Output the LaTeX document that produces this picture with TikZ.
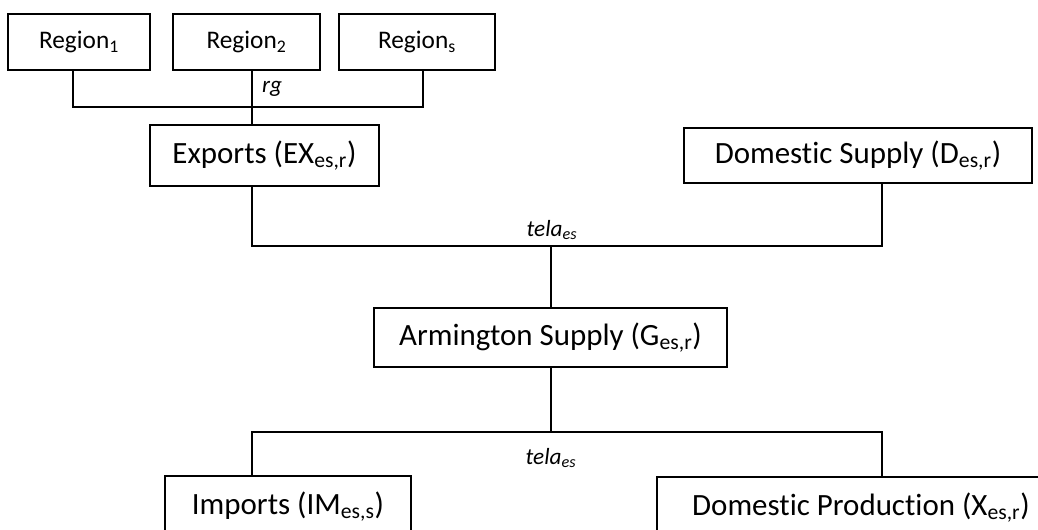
\documentclass[tikz,border=0pt]{standalone}
\usepackage{fontspec}
\setmainfont[Ligatures={NoCommon}]{Carlito}
\begin{document}
\begin{tikzpicture}[x=0.025cm, y=-0.025cm, line width=1pt,
	box/.style={rectangle, draw, fill=white, inner sep=0pt, align=center},
	reg/.style={box, minimum height=1.4cm, font=\fontsize{18}{20}\selectfont},
	big/.style={box, font=\fontsize{22}{24}\selectfont},
	lbl/.style={inner sep=0pt, font=\fontsize{16.5}{18}\selectfont\itshape}]
	\useasboundingbox (0,0) rectangle (1038,529);
	\node (R1) at ( 79.0,  42.0)	[reg, minimum width=3.55cm]	{Region\textsubscript{1}};
	\node (R2) at (246.5,  42.0)	[reg, minimum width=3.675cm]	{Region\textsubscript{2}};
	\node (R3) at (417.0,  42.0)	[reg, minimum width=3.9cm]	{Region\textsubscript{s}};
	\node (EX) at (264.5, 155.5)	[big, minimum width=5.725cm, minimum height=1.525cm]	{Exports (EX\textsubscript{es,r})};
	\node (DS) at (858.0, 155.5)	[big, minimum width=8.7cm, minimum height=1.375cm]	{Domestic Supply (D\textsubscript{es,r})};
	\node (AS) at (550.5, 337.5)	[big, minimum width=8.825cm, minimum height=1.475cm]	{Armington Supply (G\textsubscript{es,r})};
	\node (IM) at (288.0, 506.5)	[big, minimum width=6.15cm, minimum height=1.525cm]	{Imports (IM\textsubscript{es,s})};
	\node (DP) at (861.0, 507.5)	[big, minimum width=10.2cm, minimum height=1.525cm]	{Domestic Production (X\textsubscript{es,r})};
	\coordinate (cA) at ( 73, 0);
	\coordinate (cC) at (423, 0);
	\coordinate (cR) at (882, 0);
	\coordinate (jtop) at (252, 107);
	\coordinate (jmid) at (551, 246);
	\coordinate (jbot) at (551, 432);
	\node (rg) at (272, 89)	[lbl]	{rg};
	\node (t1) at (552, 230)	[lbl]	{tela\textsubscript{es}};
	\node (t2) at (551, 458)	[lbl]	{tela\textsubscript{es}};
	\draw (R1.south -| cA) |- (jtop) -| (R3.south -| cC);
	\draw (R2.south -| jtop) -- (EX.north -| jtop);
	\draw (EX.south -| jtop) |- (jmid) -| (DS.south -| cR);
	\draw (jmid) -- (AS.north -| jmid);
	\draw (AS.south -| jbot) -- (jbot);
	\draw (IM.north -| jtop) |- (jbot) -| (DP.north -| cR);
\end{tikzpicture}
\end{document}
